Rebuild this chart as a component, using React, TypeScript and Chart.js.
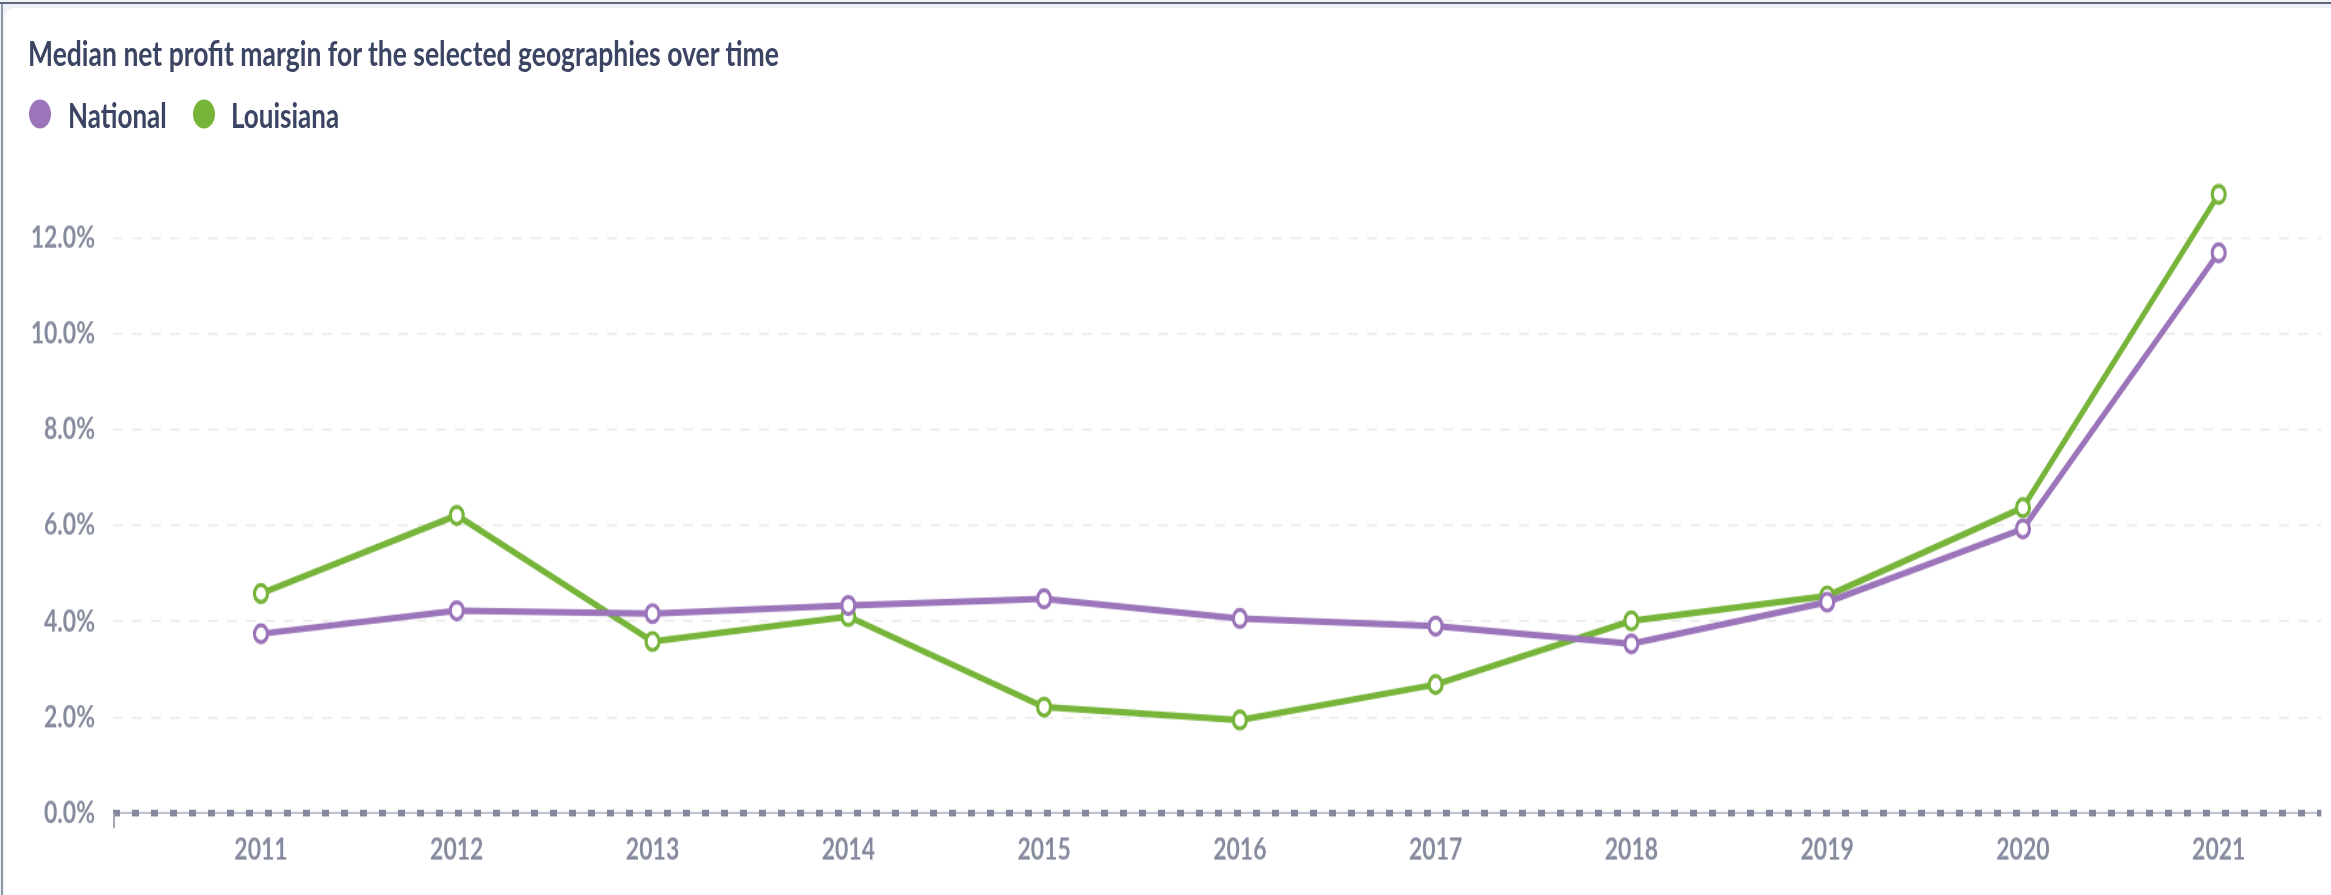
import React, { useEffect, useRef } from "react";
import { Chart, registerables } from "chart.js";

Chart.register(...registerables);

// ---- data ----
const years = [2011, 2012, 2013, 2014, 2015, 2016, 2017, 2018, 2019, 2020, 2021];
const nationalValues = [3.74, 4.22, 4.16, 4.33, 4.47, 4.06, 3.9, 3.53, 4.4, 5.93, 11.69];
const louisianaValues = [4.58, 6.21, 3.58, 4.1, 2.21, 1.94, 2.68, 4.01, 4.53, 6.37, 12.91];
const yTickValues = [0, 2, 4, 6, 8, 10, 12];
const seriesNames = ["National", "Louisiana"];
const seriesColors = ["#9b74ba", "#77b43a"];
const chartTitle = "Median net profit margin for the selected geographies over time";

// ---- layout (internal canvas is stretched vertically to match the reference) ----
const PAGE_W = 2331;
const PAGE_H = 895;
const INNER_H = 683;
const STRETCH = PAGE_H / INNER_H;
const TICK_COLOR = "#858a9d";
const TEXT_COLOR = "#3b4462";

const zeroLinePlugin = {
  id: "zeroLine",
  beforeDatasetsDraw(chart: any) {
    const { ctx, chartArea, scales } = chart;
    const y0 = scales.y.getPixelForValue(0);
    ctx.save();
    ctx.lineCap = "butt";
    ctx.strokeStyle = "#a3a7b6";
    ctx.lineWidth = 1.4;
    ctx.beginPath();
    ctx.moveTo(chartArea.left, y0);
    ctx.lineTo(chartArea.right, y0);
    ctx.stroke();
    ctx.setLineDash([7, 12]);
    ctx.strokeStyle = "#84899d";
    ctx.lineWidth = 5;
    ctx.beginPath();
    ctx.moveTo(chartArea.left, y0);
    ctx.lineTo(chartArea.right, y0);
    ctx.stroke();
    ctx.setLineDash([]);
    ctx.strokeStyle = "#a3a7b6";
    ctx.lineWidth = 2;
    ctx.beginPath();
    ctx.moveTo(chartArea.left + 1, y0);
    ctx.lineTo(chartArea.left + 1, y0 + 11.5);
    ctx.stroke();
    ctx.restore();
  },
};

export default function App() {
  const canvasRef = useRef<HTMLCanvasElement | null>(null);

  useEffect(() => {
    document.body.style.margin = "0";
    const canvas = canvasRef.current;
    if (!canvas) return;
    const series = [nationalValues, louisianaValues];
    const tickFont = { family: "Lato", size: 23, weight: "bold" as const };
    const chart = new Chart(canvas, {
      type: "line",
      data: {
        datasets: series.map((vals, si) => ({
          label: seriesNames[si],
          data: years.map((yr, i) => ({ x: yr, y: vals[i] })),
          borderColor: seriesColors[si],
          backgroundColor: "#ffffff",
          borderWidth: 5,
          pointRadius: 6.5,
          pointHoverRadius: 6.5,
          pointBorderWidth: 3.2,
          pointBackgroundColor: "#ffffff",
          pointBorderColor: seriesColors[si],
          tension: 0,
          clip: false as any,
        })),
      },
      options: {
        responsive: false,
        animation: false,
        devicePixelRatio: 1,
        events: [],
        layout: { padding: { top: 126.7, left: 0, right: 0, bottom: 0 } },
        plugins: {
          legend: { display: false },
          title: { display: false },
          tooltip: { enabled: false },
        },
        scales: {
          x: {
            type: "linear",
            min: 2010.244,
            max: 2021.524,
            afterBuildTicks: (s: any) => {
              s.ticks = years.map((v) => ({ value: v }));
            },
            afterFit: (s: any) => {
              s.height = INNER_H - 620.4;
            },
            ticks: {
              callback: (v: any) => String(v),
              font: tickFont,
              color: TICK_COLOR,
              padding: 6,
              maxRotation: 0,
              autoSkip: false,
            },
            grid: { display: false },
            border: { display: false },
          },
          y: {
            min: 0,
            max: 13.5,
            afterBuildTicks: (s: any) => {
              s.ticks = yTickValues.map((v) => ({ value: v }));
            },
            afterFit: (s: any) => {
              s.width = 113;
            },
            ticks: {
              callback: (v: any) => Number(v).toFixed(1) + "%",
              font: tickFont,
              color: TICK_COLOR,
              padding: 18,
            },
            grid: {
              color: (c: any) => (c.tick && c.tick.value === 0 ? "rgba(0,0,0,0)" : "#ebebeb"),
              lineWidth: 1.5,
              drawTicks: false,
            },
            border: { display: false, dash: [10, 9] },
          },
        },
      },
      plugins: [zeroLinePlugin],
    } as any);
    return () => chart.destroy();
  }, []);

  const legendPos = [
    { circle: 29, text: 68 },
    { circle: 193, text: 231 },
  ];

  return (
    <div
      style={{
        position: "relative",
        width: PAGE_W,
        height: PAGE_H,
        overflow: "hidden",
        background: "#eef1f5",
        fontFamily: "Lato, sans-serif",
      }}
    >
      <div style={{ position: "absolute", left: 0, top: 2, width: "100%", height: 2, background: "#5d687d" }} />
      <div style={{ position: "absolute", left: 1, top: 4, width: 2, bottom: 0, background: "#8e97aa" }} />
      <div
        style={{
          position: "absolute",
          left: 4,
          top: 8,
          width: 2400,
          height: 1000,
          background: "#ffffff",
          borderTopLeftRadius: 10,
        }}
      />
      <div
        style={{
          position: "absolute",
          left: 0,
          top: 0,
          width: PAGE_W,
          height: INNER_H,
          transform: `scaleY(${STRETCH})`,
          transformOrigin: "0 0",
        }}
      >
        <div
          style={{
            position: "absolute",
            left: 28,
            top: 27.3,
            fontSize: 26.5,
            lineHeight: "26px",
            fontWeight: 700,
            color: TEXT_COLOR,
            whiteSpace: "nowrap",
          }}
        >
          {chartTitle}
        </div>
        {seriesNames.map((name, i) => (
          <React.Fragment key={name}>
            <div
              style={{
                position: "absolute",
                left: legendPos[i].circle,
                top: 76.4,
                width: 22,
                height: 22,
                borderRadius: "50%",
                background: seriesColors[i],
              }}
            />
            <div
              style={{
                position: "absolute",
                left: legendPos[i].text,
                top: 74.8,
                fontSize: 26,
                lineHeight: "26px",
                fontWeight: 700,
                color: TEXT_COLOR,
                whiteSpace: "nowrap",
              }}
            >
              {name}
            </div>
          </React.Fragment>
        ))}
        <canvas
          ref={canvasRef}
          width={PAGE_W}
          height={INNER_H}
          style={{ position: "absolute", left: 0, top: 0, width: PAGE_W, height: INNER_H }}
        />
      </div>
    </div>
  );
}
